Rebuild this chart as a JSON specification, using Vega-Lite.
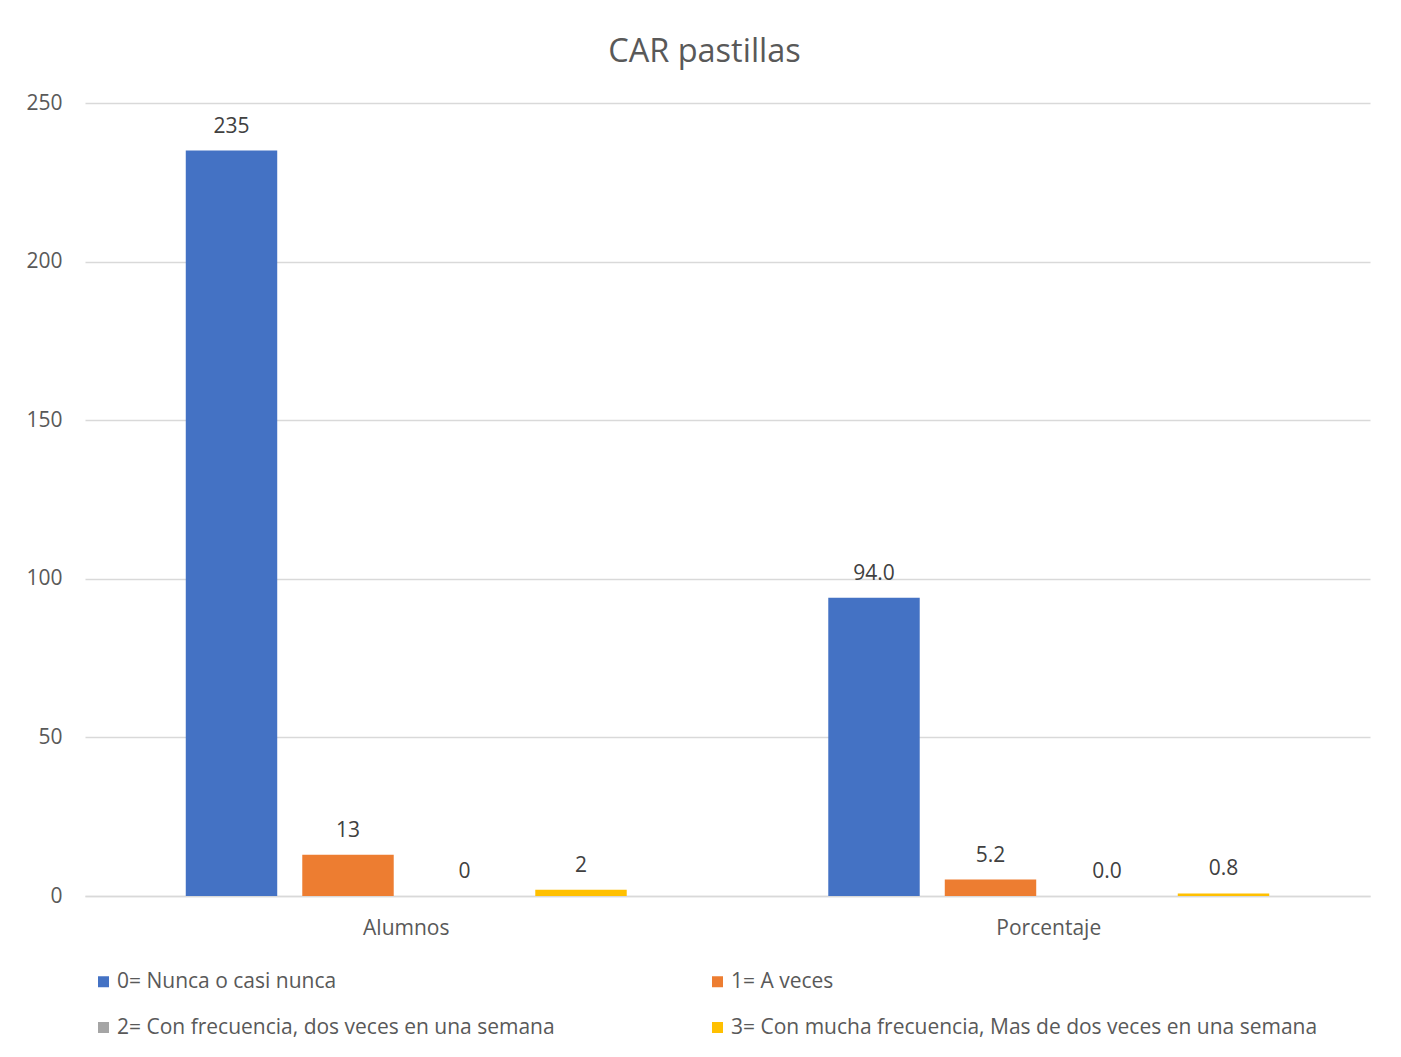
{
  "$schema": "https://vega.github.io/schema/vega-lite/v6.json",
  "autosize": "none",
  "width": 1285,
  "height": 793,
  "padding": {"left": 85, "top": 103, "right": 31, "bottom": 161},
  "background": "white",
  "title": {
    "text": "CAR pastillas",
    "fontSize": 32.5,
    "font": "Open Sans",
    "fontWeight": "normal",
    "color": "#595959",
    "anchor": "middle",
    "dx": -23,
    "offset": 24
  },
  "config": {
    "font": "Open Sans",
    "view": {"stroke": null}
  },
  "data": {
    "values": [
      {"grupo": "Alumnos", "respuesta": "0= Nunca o casi nunca", "valor": 235},
      {"grupo": "Alumnos", "respuesta": "1= A veces", "valor": 13},
      {"grupo": "Alumnos", "respuesta": "2= Con frecuencia, dos veces en una semana", "valor": 0},
      {"grupo": "Alumnos", "respuesta": "3= Con mucha frecuencia, Mas de dos veces en una semana", "valor": 2},
      {"grupo": "Porcentaje", "respuesta": "0= Nunca o casi nunca", "valor": 94.0},
      {"grupo": "Porcentaje", "respuesta": "1= A veces", "valor": 5.2},
      {"grupo": "Porcentaje", "respuesta": "2= Con frecuencia, dos veces en una semana", "valor": 0.0},
      {"grupo": "Porcentaje", "respuesta": "3= Con mucha frecuencia, Mas de dos veces en una semana", "valor": 0.8}
    ]
  },
  "encoding": {
    "x": {
      "field": "grupo",
      "type": "nominal",
      "sort": ["Alumnos", "Porcentaje"],
      "scale": {"paddingInner": 0, "paddingOuter": 0},
      "axis": {
        "title": null,
        "labelAngle": 0,
        "labelFontSize": 21,
        "labelColor": "#595959",
        "labelPadding": 21,
        "ticks": false,
        "domainColor": "#d9d9d9",
        "domainWidth": 1.5
      }
    },
    "xOffset": {
      "field": "respuesta",
      "type": "nominal",
      "scale": {"paddingInner": 0.215, "paddingOuter": 0.865}
    },
    "y": {
      "field": "valor",
      "type": "quantitative",
      "scale": {"domain": [0, 250], "nice": false},
      "axis": {
        "title": null,
        "values": [0, 50, 100, 150, 200, 250],
        "labelFontSize": 21,
        "labelColor": "#595959",
        "labelPadding": 23,
        "ticks": false,
        "domain": false,
        "gridColor": "#d9d9d9",
        "gridWidth": 1.5
      }
    }
  },
  "layer": [
    {
      "mark": {"type": "bar"},
      "encoding": {
        "color": {
          "field": "respuesta",
          "type": "nominal",
          "scale": {
            "domain": [
              "0= Nunca o casi nunca",
              "1= A veces",
              "2= Con frecuencia, dos veces en una semana",
              "3= Con mucha frecuencia, Mas de dos veces en una semana"
            ],
            "range": ["#4472C4", "#ED7D31", "#A5A5A5", "#FFC000"]
          },
          "legend": {
            "title": null,
            "orient": "none",
            "direction": "horizontal",
            "legendX": 8,
            "legendY": 868,
            "columns": 2,
            "columnPadding": 152,
            "rowPadding": 24,
            "symbolType": "square",
            "symbolSize": 121,
            "symbolStrokeWidth": 0,
            "labelFontSize": 21,
            "labelColor": "#595959",
            "labelOffset": 3,
            "labelLimit": 700
          }
        }
      }
    },
    {
      "transform": [{"filter": "datum.grupo === 'Alumnos'"}],
      "mark": {"type": "text", "baseline": "alphabetic", "dy": -18, "fontSize": 21, "color": "#404040"},
      "encoding": {"text": {"field": "valor", "type": "quantitative", "format": "d"}}
    },
    {
      "transform": [{"filter": "datum.grupo === 'Porcentaje'"}],
      "mark": {"type": "text", "baseline": "alphabetic", "dy": -18, "fontSize": 21, "color": "#404040"},
      "encoding": {"text": {"field": "valor", "type": "quantitative", "format": ".1f"}}
    }
  ]
}
